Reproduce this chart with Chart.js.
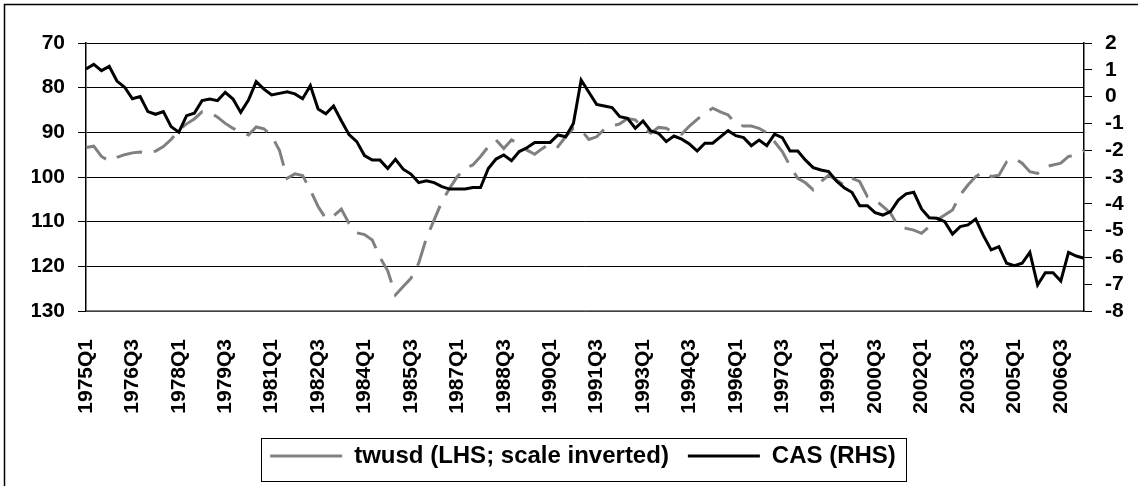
<!DOCTYPE html>
<html>
<head>
<meta charset="utf-8">
<script src="https://cdn.jsdelivr.net/npm/chart.js@4"></script>
<style>
  html, body { margin: 0; padding: 0; background: #fff; }
  canvas { display: block; }
</style>
</head>
<body>
<canvas id="fxChart" width="1138" height="486"></canvas>
<script>
// quarterly categories, 1975Q1 .. 2007Q2
const quarters = [];
for (let y = 1975; quarters.length < 130; y++) {
    for (let q = 1; q <= 4 && quarters.length < 130; q++) quarters.push(y + 'Q' + q);
}

// trade weighted USD index (left axis, inverted)
const twusd = [
    93.4, 93.1, 95.4, 96.4, 95.6, 95.0, 94.6, 94.4, 94.7, 94.2,
    93.2, 91.6, 89.5, 88.1, 87.0, 85.4, 85.5, 86.6, 88.0, 89.1,
    89.9, 90.6, 88.8, 89.2, 90.8, 94.0, 100.3, 99.3, 99.7, 102.9,
    106.6, 109.3, 108.7, 107.2, 110.4, 112.5, 112.9, 114.1, 118.0, 121.0,
    126.4, 124.5, 122.7, 119.3, 113.7, 109.6, 105.5, 102.5, 99.9, 98.1,
    97.3, 95.4, 93.2, 91.7, 93.6, 91.7, 92.6, 94.0, 94.9, 93.6,
    92.5, 93.2, 91.0, 89.1, 89.5, 91.6, 91.0, 89.3, 88.6, 88.1,
    86.9, 87.2, 89.1, 90.2, 88.9, 89.1, 90.1, 90.4, 88.6, 87.1,
    85.7, 84.6, 85.4, 86.1, 88.1, 88.6, 88.6, 89.1, 90.1, 92.1,
    94.3, 97.5, 100.3, 101.3, 102.9, 101.0, 99.6, 100.7, 101.8, 100.3,
    101.0, 104.4, 105.1, 106.6, 108.1, 111.1, 111.5, 111.9, 112.6, 111.1,
    109.6, 108.5, 107.4, 104.0, 101.8, 99.9, 98.8, 99.9, 99.6, 96.6,
    95.8, 96.9, 98.8, 99.2, 97.7, 97.3, 96.9, 95.4, 95.1, 94.1
];

// current account balance, % of GDP (right axis)
const cas = [
    1.03, 1.20, 0.97, 1.13, 0.58, 0.35, -0.08, 0.00, -0.56, -0.66,
    -0.56, -1.12, -1.33, -0.71, -0.62, -0.15, -0.09, -0.15, 0.16, -0.09,
    -0.59, -0.13, 0.56, 0.28, 0.06, 0.12, 0.18, 0.10, -0.08, 0.41,
    -0.46, -0.64, -0.35, -0.90, -1.42, -1.68, -2.20, -2.37, -2.37, -2.68,
    -2.34, -2.71, -2.89, -3.21, -3.14, -3.21, -3.36, -3.45, -3.45, -3.45,
    -3.39, -3.39, -2.68, -2.33, -2.18, -2.39, -2.05, -1.91, -1.71, -1.71,
    -1.71, -1.43, -1.50, -1.00, 0.62, 0.16, -0.29, -0.35, -0.41, -0.75,
    -0.81, -1.18, -0.91, -1.28, -1.37, -1.68, -1.47, -1.59, -1.77, -2.03,
    -1.74, -1.74, -1.50, -1.27, -1.46, -1.53, -1.83, -1.62, -1.83, -1.40,
    -1.53, -2.03, -2.03, -2.37, -2.65, -2.74, -2.80, -3.15, -3.40, -3.57,
    -4.07, -4.07, -4.33, -4.42, -4.29, -3.86, -3.63, -3.57, -4.19, -4.52,
    -4.54, -4.67, -5.13, -4.85, -4.79, -4.57, -5.19, -5.72, -5.60, -6.22,
    -6.31, -6.22, -5.81, -7.03, -6.57, -6.57, -6.88, -5.81, -5.95, -6.03
];

const lhsRange = [70, 130];
const rhsRange = [-8, 2];
const labelEvery = 6;

Chart.defaults.font.family = '"Liberation Sans", Arial, sans-serif';
Chart.defaults.font.weight = 'bold';
Chart.defaults.color = '#000';

// outer frame + border round the legend
const framePlugin = {
    id: 'frame',
    afterDraw(chart) {
        const ctx = chart.ctx;
        ctx.save();
        ctx.strokeStyle = '#000';
        ctx.lineWidth = 1.5;
        ctx.strokeRect(4.5, 4.5, chart.width + 20, chart.height + 20);
        const boxes = chart.legend.legendHitBoxes;
        if (boxes && boxes.length) {
            const first = boxes[0];
            const last = boxes[boxes.length - 1];
            const mid = first.top + first.height / 2;
            const x0 = Math.round(first.left - 9) + 0.5;
            const x1 = Math.round(last.left + last.width + 10) + 0.5;
            const y0 = Math.round(mid - 18) + 0.5;
            ctx.lineWidth = 1;
            ctx.strokeStyle = '#000';
            ctx.strokeRect(x0, y0, x1 - x0, 43);
        }
        ctx.restore();
    }
};

new Chart(document.getElementById('fxChart').getContext('2d'), {
    type: 'line',
    data: {
        labels: quarters,
        datasets: [{
            label: 'twusd (LHS; scale inverted)',
            data: twusd,
            yAxisID: 'y',
            borderColor: '#808080',
            borderWidth: 3,
            borderDash: [26, 12],
            pointRadius: 0,
            tension: 0,
            order: 1,
        }, {
            label: 'CAS (RHS)',
            data: cas,
            yAxisID: 'y1',
            borderColor: '#000',
            borderWidth: 3,
            pointRadius: 0,
            tension: 0,
            order: 0,
        }],
    },
    options: {
        responsive: false,
        animation: false,
        layout: { padding: { top: 43, left: 32, right: 4, bottom: 8 } },
        scales: {
            x: {
                offset: false,
                grid: { display: false },
                border: { display: true, color: '#808080', width: 1.5 },
                ticks: {
                    autoSkip: false,
                    minRotation: 90,
                    maxRotation: 90,
                    padding: 20,
                    font: { size: 21, weight: 'bold' },
                    callback: (v, i) => (i % labelEvery === 0 ? quarters[i] : null),
                },
                afterFit: (s) => { s.height = 114; },
            },
            y: {
                position: 'left',
                reverse: true,
                min: lhsRange[0],
                max: lhsRange[1],
                ticks: { stepSize: 10, autoSkip: false, padding: 13, font: { size: 21, weight: 'bold' } },
                grid: { color: '#000', lineWidth: 1, tickLength: 8 },
                border: { color: '#000', width: 1.5 },
                afterFit: (s) => { s.width = 54; },
            },
            y1: {
                position: 'right',
                min: rhsRange[0],
                max: rhsRange[1],
                ticks: { stepSize: 1, autoSkip: false, padding: 13, font: { size: 21, weight: 'bold' } },
                grid: { drawOnChartArea: false, color: '#000', tickLength: 8 },
                border: { color: '#000', width: 1.5 },
                afterFit: (s) => { s.width = 50; },
            },
        },
        plugins: {
            tooltip: { enabled: false },
            legend: {
                position: 'bottom',
                labels: {
                    usePointStyle: true,
                    pointStyle: 'line',
                    pointStyleWidth: 72,
                    padding: 19,
                    color: '#000',
                    font: { size: 24, weight: 'bold' },
                    sort: (a, b) => a.datasetIndex - b.datasetIndex,
                },
            },
        },
    },
    plugins: [framePlugin],
});
</script>
</body>
</html>
